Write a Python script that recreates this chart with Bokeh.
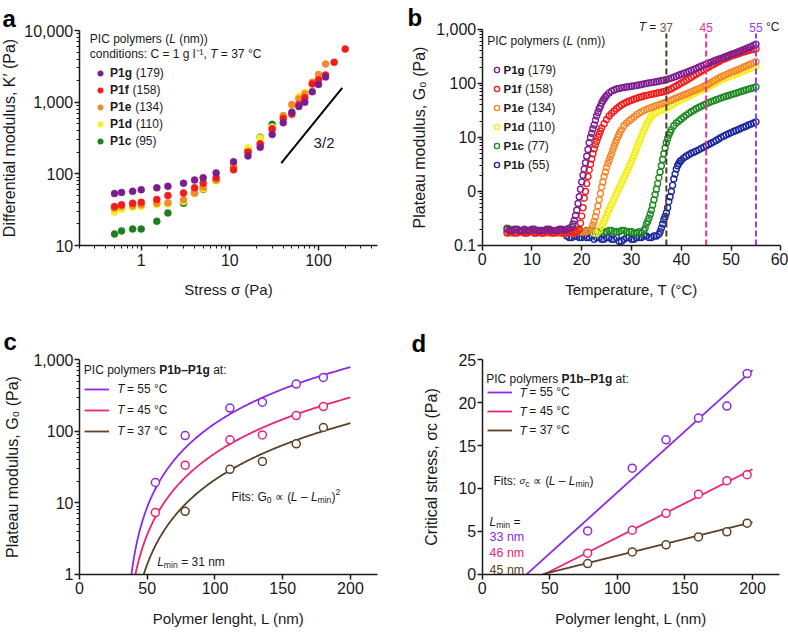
import numpy as np
from bokeh.plotting import figure
from bokeh.models import Range1d, FixedTicker, Label, Legend, LegendItem
from bokeh.layouts import row, column
from bokeh.embed import file_html
from bokeh.resources import INLINE

FONT = "Liberation Sans"
INK = "#1a1a1a"

# ---------------- Panel a data ----------------
STRESS = [0.5, 0.6, 0.8, 1, 1.5, 2, 3, 4, 5, 7, 11, 16, 22, 30, 40, 50, 60, 70, 85, 100, 120, 150, 200]
K_P1G = [53, 55, 57, 60, 64, 67, 74, 82, 88, 103, 147, 178, 235, 355, 515, 725, 870, 1000, 1400, 1770, 2250]
K_P1F = [35, 37, 39, 40, 44, 50, 54, 64, 74, 88, 114, 200, 260, 425, 590, 680, 930, 1150, 1800, 2050, 2400, 3600, 5500]
K_P1E = [33, 35, 36, 37, 39, 39.5, 43.5, 54, 65, 82, 128, 205, 265, 420, 650, 930, 1120, 1300, 1900, 2430, 3420]
K_P1D = [29, 32, 34, 35, 37, 38, 41, 53, 62, 80, 125, 230, 320, 450, 640, 900, 1200, 1380]
K_P1C = [14.5, 16, 17, 17, 21.8, 28.5, 39, 55, 61, 81, 125, 210, 325, 490]
A_NAMES = ["P1g", "P1f", "P1e", "P1d", "P1c"]
A_LENGTHS = ["(179)", "(158)", "(134)", "(110)", "(95)"]
A_COLORS = ["#7b1e8c", "#f21c1c", "#f48a2c", "#f6ef1e", "#1c7f1c"]
SLOPE_X = [38, 185]
SLOPE_Y = [141, 1585]

# ---------------- Panel b data (T in degC, G0 in Pa) ----------------
P1G_B = [(5,.20),(6,.19),(7,.20),(8,.19),(9,.19),(10,.20),(11,.19),(12,.19),(13,.20),(14,.19),(15,.19),(16,.20),(17,.20),
         (17.5,.21),(18,.22),(18.25,.25),(18.5,.29),(18.75,.36),(19,.45),(19.25,.6),(19.5,.8),(19.75,1.1),(20,1.5),
         (20.25,2.0),(20.5,2.6),(20.75,3.4),(21,4.5),(21.25,6.0),(21.5,8.0),(21.75,10),(22,12),(22.25,14.5),(22.5,17),
         (22.75,21),(23,25),(23.25,29),(23.5,34),(23.75,38),(24,43),(24.25,48),(24.5,52),(24.75,56),(25,60),(25.5,67),
         (26,72),(26.5,76),(27,79),(27.5,81),(28,83),(29,86),(30,89),(31,92),(32,96),(33,100),(34,104),(35,108),(36,113),
         (37,118),(38,126),(39,136),(40,148),(41,160),(42,175),(43,190),(44,210),(45,228),(46,248),(47,270),(48,292),
         (49,316),(50,345),(51,372),(52,405),(53,440),(54,480),(55,535)]
P1G_B_MORE = [(5.5,.19),(6.5,.20),(7.5,.19),(8.5,.20),(9.5,.19),(10.5,.20),(11.5,.19),(12.5,.19),(13.5,.20),(14.5,.19),
              (15.5,.20),(16.5,.19),(28.5,84.5),(29.5,87.5),(30.5,90.5),(31.5,94),(32.5,98),(33.5,102),(34.5,106),
              (35.5,110),(36.5,115),(37.5,122),(38.5,131),(39.5,142),(40.5,154),(41.5,167),(42.5,182),(43.5,200),
              (44.5,219),(45.5,238),(46.5,259),(47.5,281),(48.5,304),(49.5,330),(50.5,358),(51.5,388),(52.5,422),
              (53.5,460),(54.5,507)]
P1F_B = [(5,.17),(6,.18),(7,.17),(8,.18),(9,.17),(10,.18),(11,.17),(12,.17),(13,.18),(14,.17),(15,.18),(16,.17),(17,.17),
         (18,.18),(19,.18),(19.5,.2),(19.75,.26),(20,.35),(20.25,.5),(20.5,.75),(20.75,1.0),(21,1.4),(21.25,1.9),(21.5,2.5),
         (21.75,3.2),(22,4.0),(22.25,5.0),(22.5,6.2),(22.75,7.3),(23,8.5),(23.25,10),(23.5,11.5),(23.75,13.2),(24,15),
         (24.5,18),(25,21.5),(25.5,25),(26,28),(26.5,31),(27,34),(28,40),(29,45),(30,49),(31,53),(32,57),(33,60),(34,63),
         (35,66),(36,69),(37,73),(38,80),(39,90),(40,102),(41,115),(42,130),(43,148),(44,168),(45,190),(46,215),(47,240),
         (48,268),(49,295),(50,320),(51,345),(52,370),(53,395),(54,420),(55,440)]
P1F_B_MORE = [(5.5,.18),(6.5,.17),(7.5,.18),(8.5,.17),(9.5,.18),(10.5,.17),(11.5,.18),(12.5,.17),(13.5,.18),(14.5,.17),
              (15.5,.18),(16.5,.17),(17.5,.18),(18.5,.17),(27.5,37),(28.5,42.5),(29.5,47),(30.5,51),(31.5,55),(32.5,58.5),
              (33.5,61.5),(34.5,64.5),(35.5,67.5),(36.5,71),(37.5,76),(38.5,85),(39.5,96),(40.5,108),(41.5,122),
              (42.5,139),(43.5,158),(44.5,179),(45.5,202),(46.5,227),(47.5,254),(48.5,281),(49.5,307),(50.5,332),
              (51.5,357),(52.5,382),(53.5,407),(54.5,430)]
P1E_B = [(5,.18),(6,.17),(7,.18),(8,.18),(9,.17),(10,.18),(11,.18),(12,.17),(13,.18),(14,.18),(15,.17),(16,.18),(17,.18),
         (18,.17),(19,.18),(20,.18),(21,.18),(21.5,.19),(22,.21),(22.25,.24),(22.5,.28),(22.75,.34),(23,.42),(23.25,.54),
         (23.5,.7),(23.75,.92),(24,1.2),(24.25,1.5),(24.5,1.9),(24.75,2.3),(25,2.8),(25.25,3.3),(25.5,3.8),(25.75,4.4),
         (26,5.0),(26.25,5.9),(26.5,6.8),(26.75,7.9),(27,9.0),(27.25,10.2),(27.5,11.5),(27.75,12.8),(28,14),(28.5,16.5),
         (29,18.5),(29.5,20.5),(30,22),(31,26.5),(32,30),(33,33),(34,36),(35,39),(36,42),(37,45),(38,49),(39,54),(40,59),
         (41,64),(42,70),(43,77),(44,84),(45,93),(46,104),(47,118),(48,132),(49,146),(50,160),(51,174),(52,190),(53,210),
         (54,230),(55,252)]
P1E_B_MORE = [(5.5,.17),(6.5,.18),(7.5,.18),(8.5,.17),(9.5,.18),(10.5,.17),(11.5,.18),(12.5,.18),(13.5,.17),(14.5,.18),
              (15.5,.17),(16.5,.18),(17.5,.18),(18.5,.17),(19.5,.18),(20.5,.18),(30.5,24),(31.5,28),(32.5,31.5),
              (33.5,34.5),(34.5,37.5),(35.5,40.5),(36.5,43.5),(37.5,47),(38.5,51.5),(39.5,56.5),(40.5,61.5),(41.5,67),
              (42.5,73.5),(43.5,80.5),(44.5,88.5),(45.5,98),(46.5,111),(47.5,125),(48.5,139),(49.5,153),(50.5,167),
              (51.5,182),(52.5,200),(53.5,220),(54.5,241)]
P1D_B = [(22.5,.17),(23,.17),(23.5,.19),(24,.23),(24.25,.25),(24.5,.28),(24.75,.32),(25,.36),(25.25,.41),(25.5,.46),
         (25.75,.52),(26,.58),(26.25,.65),(26.5,.73),(26.75,.82),(27,.92),(27.25,1.03),(27.5,1.15),(27.75,1.28),(28,1.42),
         (28.25,1.6),(28.5,1.8),(28.75,2.0),(29,2.25),(29.25,2.5),(29.5,2.85),(29.75,3.2),(30,3.6),(30.25,4.1),(30.5,4.7),
         (30.75,5.4),(31,6.2),(31.25,7.1),(31.5,8.2),(31.75,9.3),(32,10.5),(32.25,12),(32.5,13.5),(32.75,15.2),(33,17),
         (33.25,19),(33.5,21),(33.75,23),(34,24.5),(34.5,27),(35,29),(35.5,30.5),(36,32),(37,35),(38,39),(39,45),(40,50),
         (41,55),(42,61),(43,68),(44,75),(45,83),(46,93),(47,104),(48,115),(49,127),(50,138),(51,150),(52,162),(53,178),
         (54,193),(55,208)]
P1D_B_MORE = [(36.5,33.5),(37.5,37),(38.5,42),(39.5,47.5),(40.5,52.5),(41.5,58),(42.5,64.5),(43.5,71.5),(44.5,79),
              (45.5,88),(46.5,98),(47.5,109),(48.5,121),(49.5,132),(50.5,144),(51.5,156),(52.5,170),(53.5,185),(54.5,200)]
P1C_B = [(5,.21),(6,.19),(7,.19),(8,.18),(9,.19),(10,.19),(11,.18),(12,.19),(13,.19),(14,.18),(15,.19),(16,.19),(17,.18),
         (18,.19),(19,.19),(20,.18),(21,.19),(22,.19),(23,.18),(24,.19),(25,.18),(26,.19),(27,.18),(28,.19),(29,.18),(30,.18),
         (31,.17),(32,.17),(32.5,.19),(32.75,.21),(33,.25),(33.25,.28),(33.5,.32),(33.75,.38),(34,.45),(34.25,.56),(34.5,.7),
         (34.75,.88),(35,1.1),(35.25,1.4),(35.5,1.8),(35.75,2.3),(36,3.0),(36.25,3.9),(36.5,5.0),(36.75,6.4),(37,8.0),
         (37.25,9.5),(37.5,11),(37.75,12.5),(38,14),(38.5,16.5),(39,18.5),(39.5,20.3),(40,22),(41,26),(42,30),(43,34),
         (44,38),(45,42),(46,46),(47,50),(48,54),(49,58),(50,62),(51,66),(52,71),(53,76),(54,81),(55,86)]
P1C_B_MORE = [(5.5,.20),(6.5,.18),(7.5,.19),(8.5,.18),(9.5,.19),(10.5,.18),(11.5,.19),(12.5,.18),(13.5,.19),(14.5,.18),
              (15.5,.19),(16.5,.18),(17.5,.19),(18.5,.18),(19.5,.19),(20.5,.18),(21.5,.19),(22.5,.18),(23.5,.19),
              (24.5,.18),(25.5,.19),(26.5,.18),(27.5,.18),(28.5,.19),(29.5,.18),(30.5,.17),(31.5,.18),(40.5,24),
              (41.5,28),(42.5,32),(43.5,36),(44.5,40),(45.5,44),(46.5,48),(47.5,52),(48.5,56),(49.5,60),(50.5,64),
              (51.5,68.5),(52.5,73.5),(53.5,78.5),(54.5,83.5)]
P1B_B = [(17,.15),(18,.14),(19,.15),(20,.14),(21,.14),(22,.15),(23,.14),(24,.13),(25,.14),(26,.13),(27,.14),(28,.12),(29,.14),
         (30,.13),(31,.14),(32,.14),(33,.15),(34,.14),(35,.15),(35.5,.16),(35.75,.18),(36,.21),(36.25,.25),(36.5,.3),
         (36.75,.34),(37,.4),(37.25,.5),(37.5,.65),(37.75,.8),(38,1.0),(38.25,1.3),(38.5,1.7),(38.75,2.1),(39,2.6),(39.25,3.0),
         (39.5,3.3),(39.75,3.6),(40,3.8),(40.5,4.2),(41,4.5),(42,5.1),(43,5.6),(44,6.3),(45,7.0),(46,7.8),(47,8.8),(48,10),
         (49,11.2),(50,12.3),(51,13.5),(52,14.8),(53,16.2),(54,17.7),(55,19.5)]
P1B_B_MORE = [(17.5,.14),(18.5,.15),(19.5,.14),(20.5,.15),(21.5,.14),(22.5,.13),(23.5,.14),(24.5,.13),(25.5,.14),
              (26.5,.13),(27.5,.12),(28.5,.13),(29.5,.14),(30.5,.13),(31.5,.14),(32.5,.15),(33.5,.14),(34.5,.15),
              (41.5,4.8),(42.5,5.35),(43.5,5.9),(44.5,6.6),(45.5,7.4),(46.5,8.3),(47.5,9.4),(48.5,10.6),(49.5,11.7),
              (50.5,12.9),(51.5,14.1),(52.5,15.5),(53.5,17),(54.5,18.6)]
B_NAMES = ["P1g", "P1f", "P1e", "P1d", "P1c", "P1b"]
B_LENGTHS = ["(179)", "(158)", "(134)", "(110)", "(77)", "(55)"]
B_COLORS = ["#7e1f8f", "#f21d1d", "#f7862a", "#f4ee1e", "#1f8a22", "#1b2a9c"]
VLINE_T = [37, 45, 55]
VLINE_TXT = ["37", "45", "55"]
VLINE_BOTTOM = [0.1, 0.1, 0.1]
VLINE_TOP = [840, 840, 840]
VLINE_COLORS = ["#4d3a28", "#f02f8c", "#9040f0"]
VTEXT_COLORS = ["#6b5a44", "#f02f8c", "#9040f0"]

# ---------------- Panel c data ----------------
C_L = [56, 78, 111, 135, 160, 180]
C_G55 = [19.2, 87, 211, 255, 457, 566]
C_G45 = [7.3, 33.5, 76, 89, 166, 222]
C_L37 = [78, 111, 135, 160, 180]
C_G37 = [7.6, 29.4, 37.8, 66.7, 113]
FIT_C_LMIN = [32.4, 31.5, 32.8]
FIT_C_COEF = [0.0281, 0.01046, 0.00465]

# ---------------- Panel d data ----------------
D_L = [78, 111, 136, 160, 181, 196]
D_S55 = [5.05, 12.36, 15.67, 18.2, 19.6, 23.4]
D_S45 = [2.45, 5.13, 7.1, 9.33, 10.9, 11.6]
D_S37 = [1.24, 2.6, 3.42, 4.35, 4.94, 5.95]
FIT_D_LMIN = [33, 46, 45]
FIT_D_SLOPE = [0.1425, 0.0795, 0.0392]

T_LABELS = ["55 °C", "45 °C", "37 °C"]
T_COLORS = ["#8a2be2", "#e8247a", "#5a4128"]

# ---------------- helpers ----------------
W_REG = {' ': 278, '(': 333, ')': 333, ',': 278, '-': 333, '.': 278, '/': 278, ':': 278, '=': 584, '°': 400,
         'A': 667, 'C': 722, 'D': 722, 'F': 611, 'G': 778, 'I': 278, 'K': 667, 'L': 556, 'P': 667, 'T': 611,
         'a': 556, 'b': 556, 'c': 500, 'd': 556, 'e': 556, 'f': 278, 'g': 556, 'h': 556, 'i': 222, 'k': 500,
         'l': 222, 'm': 833, 'n': 556, 'o': 556, 'p': 556, 'r': 333, 's': 500, 't': 278, 'u': 556, 'y': 500,
         '–': 556, '∝': 713, 'σ': 600, '²': 333, '¹': 333, '⁻': 333}
W_BOLD = {'b': 611, 'c': 556, 'd': 611, 'f': 333, 'g': 611, 'P': 667}


def text_width(s, size, bold=False):
    tot = 0
    for ch in s:
        if bold and ch in W_BOLD:
            tot += W_BOLD[ch]
        else:
            tot += W_REG.get(ch, 556)
    return tot * size / 1000.0


def label(p, x, y, text, size=12, style="normal", color=INK, align="left", baseline="alphabetic"):
    p.add_layout(Label(x=x, y=y, x_units="screen", y_units="screen", text=text, text_font=FONT,
                       text_font_size=f"{size}px", text_font_style=style, text_color=color,
                       text_align=align, text_baseline=baseline))


def rich(p, x, y, segs, size=12):
    cx = x
    for seg in segs:
        txt, kind = seg[0], seg[1]
        color = seg[2] if len(seg) > 2 else INK
        fs, dy, style = size, 0, "normal"
        if kind == "b":
            style = "bold"
        elif kind == "i":
            style = "italic"
        elif kind == "sub":
            fs, dy = size * 0.72, -3
        elif kind == "sup":
            fs, dy = size * 0.72, 5
        elif kind == "ismall":
            fs, style = size * 0.8, "italic"
        lead = len(txt) - len(txt.lstrip(" "))
        stripped = txt.strip(" ")
        if stripped:
            label(p, cx + text_width(" " * lead, fs), y + dy, stripped, size=round(fs, 1), style=style, color=color)
        cx += text_width(txt, fs, bold=(kind == "b"))
    return cx


def make_fig(w, h, xr, yr, xt="linear", yt="linear"):
    # the frame fills the whole canvas; axes are pinned with fixed_location
    p = figure(width=w, height=h, x_range=xr, y_range=yr, x_axis_type=xt, y_axis_type=yt,
               output_backend="svg", toolbar_location=None,
               min_border_left=0, min_border_right=0, min_border_top=0, min_border_bottom=0)
    p.grid.visible = False
    p.outline_line_color = None
    p.background_fill_color = "white"
    p.border_fill_color = "white"
    return p


def style_axis(ax, title, tsize, lstand, tstand, loc, bounds):
    ax.fixed_location = loc
    ax.bounds = bounds
    ax.axis_label = title
    ax.axis_label_text_font = FONT
    ax.axis_label_text_font_size = tsize
    ax.axis_label_text_font_style = "normal"
    ax.axis_label_text_color = INK
    ax.axis_label_standoff = tstand
    ax.major_label_text_font = FONT
    ax.major_label_text_font_size = "16px"
    ax.major_label_text_color = INK
    ax.major_label_standoff = lstand
    ax.axis_line_color = INK
    ax.axis_line_width = 1.5
    ax.major_tick_line_color = INK
    ax.major_tick_line_width = 1.5
    ax.major_tick_in = 0
    ax.major_tick_out = 5
    ax.minor_tick_line_color = INK
    ax.minor_tick_line_width = 1
    ax.minor_tick_in = 0
    ax.minor_tick_out = 3


def log_minor(lo, hi):
    out = []
    d = 10.0 ** np.floor(np.log10(lo))
    while d < hi:
        for m in range(2, 10):
            v = m * d
            if lo <= v <= hi:
                out.append(float(v))
        d *= 10
    return out


def letter(p, txt, x, y):
    label(p, x, y, txt, size=24, style="bold", color="black")


# ================= Panel a (canvas 394 x 316) =================
pa = make_fig(394, 316, Range1d(0.02588, 719), Range1d(1.022, 26220), "log", "log")
style_axis(pa.xaxis[0], "Stress σ (Pa)", "15px", 3, 12, 10, (0.2, 462))
style_axis(pa.yaxis[0], "Differential modulus, K′ (Pa)", "16px", 1, 4, 0.2, (10, 10000))
pa.xaxis.ticker = FixedTicker(ticks=[1, 10, 100], minor_ticks=log_minor(0.2, 462))
pa.xaxis.major_label_overrides = {1: "1", 10: "10", 100: "100"}
pa.yaxis.ticker = FixedTicker(ticks=[10, 100, 1000, 10000], minor_ticks=log_minor(10, 10000))
pa.yaxis.major_label_overrides = {10: "10", 100: "100", 1000: "1,000", 10000: "10,000"}

a_series = [K_P1G, K_P1F, K_P1E, K_P1D, K_P1C]
a_rend = {}
for i in [4, 3, 2, 1, 0]:
    vals = a_series[i]
    a_rend[i] = pa.scatter(STRESS[:len(vals)], vals, marker="circle", size=7, fill_color=A_COLORS[i],
                           line_color=A_COLORS[i], line_width=0.5)
pa.line(SLOPE_X, SLOPE_Y, line_color="black", line_width=2)
pa.add_layout(Label(x=88, y=275, text="3/2", text_font=FONT, text_font_size="15px", text_color=INK,
                    text_baseline="alphabetic"))

leg_a = Legend(items=[LegendItem(label=A_NAMES[i], renderers=[a_rend[i]]) for i in range(5)],
               location=(93, 168), glyph_width=14, glyph_height=14, label_height=14, spacing=3,
               padding=0, margin=0, label_standoff=3, border_line_color=None, background_fill_alpha=0,
               label_text_font=FONT, label_text_font_size="12px", label_text_font_style="bold",
               label_text_color=INK)
pa.add_layout(leg_a)
for i in range(5):
    xs = 110 + text_width(A_NAMES[i], 12, bold=True) + 3.3
    label(pa, xs, 316 - (72.7 + 17 * i), A_LENGTHS[i], baseline="middle")
rich(pa, 89.3, 278, [("PIC polymers (", "n"), ("L", "i"), (" (nm))", "n")])
rich(pa, 89.3, 263, [("conditions: C = 1 g l⁻¹, ", "n"), ("T", "i"), (" = 37 °C", "n")])
letter(pa, "a", 2, 298)

# ================= Panel b (canvas 394 x 316, page x 394) =================
pb = make_fig(394, 316, Range1d(-17.62, 61.54), Range1d(0.00484, 3444), "linear", "log")
style_axis(pb.xaxis[0], "Temperature, T (°C)", "15px", 3, 12, 0.1, (0, 60))
style_axis(pb.yaxis[0], "Plateau modulus, G₀ (Pa)", "16px", 1, 5, 0, (0.1, 1000))
pb.xaxis.ticker = FixedTicker(ticks=[0, 10, 20, 30, 40, 50, 60])
pb.yaxis.ticker = FixedTicker(ticks=[0.1, 1, 10, 100, 1000], minor_ticks=log_minor(0.1, 1000))
pb.yaxis.major_label_overrides = {0.1: "0.1", 1: "0", 10: "10", 100: "100", 1000: "1,000"}

b_series = [P1G_B + P1G_B_MORE, P1F_B + P1F_B_MORE, P1E_B + P1E_B_MORE, P1D_B + P1D_B_MORE,
            P1C_B + P1C_B_MORE, P1B_B + P1B_B_MORE]
b_rend = {}
for i in [5, 4, 3, 2, 1, 0]:
    ts = [t for t, g in b_series[i]]
    gs = [g for t, g in b_series[i]]
    b_rend[i] = pb.scatter(ts, gs, marker="circle", size=6, fill_color=None, line_color=B_COLORS[i],
                           line_width=1.4)
pb.segment(x0=VLINE_T, y0=VLINE_BOTTOM, x1=VLINE_T, y1=VLINE_TOP, line_color=VLINE_COLORS,
           line_dash="6 3", line_width=2)

leg_b = Legend(items=[LegendItem(label=B_NAMES[i], renderers=[b_rend[i]]) for i in range(6)],
               location=(95.5, 145), glyph_width=13, glyph_height=13, label_height=13, spacing=6,
               padding=0, margin=0, label_standoff=1, border_line_color=None, background_fill_alpha=0,
               label_text_font=FONT, label_text_font_size="11.5px", label_text_font_style="bold",
               label_text_color=INK)
pb.add_layout(leg_b)
for i in range(6):
    xs = 109.5 + text_width(B_NAMES[i], 11.5, bold=True) + 3
    label(pb, xs, 316 - (69.3 + 19 * i), B_LENGTHS[i], baseline="middle")
rich(pb, 92.7, 276, [("PIC polymers (", "n"), ("L", "i"), (" (nm))", "n")])
for t, txt, c in zip(VLINE_T, VLINE_TXT, VTEXT_COLORS):
    pb.add_layout(Label(x=t, y=289.3, x_units="data", y_units="screen", text=txt, text_font=FONT,
                        text_font_size="12px", text_color=c, text_align="center", text_baseline="alphabetic"))
pb.add_layout(Label(x=VLINE_T[0], y=289.3, x_units="data", y_units="screen", x_offset=-10, text="=",
                    text_font=FONT, text_font_size="12px", text_color=INK, text_align="right",
                    text_baseline="alphabetic"))
pb.add_layout(Label(x=VLINE_T[0], y=289.3, x_units="data", y_units="screen", x_offset=-20.3, text="T",
                    text_font=FONT, text_font_size="12px", text_font_style="italic", text_color=INK,
                    text_align="right", text_baseline="alphabetic"))
pb.add_layout(Label(x=VLINE_T[2], y=289.3, x_units="data", y_units="screen", x_offset=10, text="°C",
                    text_font=FONT, text_font_size="12px", text_color=INK, text_align="left",
                    text_baseline="alphabetic"))
letter(pb, "b", 13, 299)

# ================= Panel c (canvas 394 x 314, page y 316) =================
pc = make_fig(394, 314, Range1d(-58.3, 232.5), Range1d(0.1631, 4037), "linear", "log")
style_axis(pc.xaxis[0], "Polymer lenght, L (nm)", "15px", 3, 12, 1, (0, 220))
style_axis(pc.yaxis[0], "Plateau modulus, G₀ (Pa)", "16px", 1, 9, 0, (1, 1000))
pc.xaxis.ticker = FixedTicker(ticks=[0, 50, 100, 150, 200])
pc.yaxis.ticker = FixedTicker(ticks=[1, 10, 100, 1000], minor_ticks=log_minor(1, 1000))
pc.yaxis.major_label_overrides = {1: "1", 10: "10", 100: "100", 1000: "1,000"}

c_fit_rend = []
for lmin, coef, col in zip(FIT_C_LMIN, FIT_C_COEF, T_COLORS):
    Ls = np.linspace(lmin + 1.0 / np.sqrt(coef), 200, 240)
    c_fit_rend.append(pc.line(Ls, coef * (Ls - lmin) ** 2, line_color=col, line_width=1.8))
for xs, ys, col in [(C_L, C_G55, T_COLORS[0]), (C_L, C_G45, T_COLORS[1]), (C_L37, C_G37, T_COLORS[2])]:
    pc.scatter(xs, ys, marker="circle", size=8, fill_color="white", line_color=col, line_width=1.5)

leg_c = Legend(items=[LegendItem(label="= " + T_LABELS[i], renderers=[c_fit_rend[i]]) for i in range(3)],
               location=(84, 192), glyph_width=25, glyph_height=14, label_height=14, spacing=7,
               padding=0, margin=0, label_standoff=18, border_line_color=None, background_fill_alpha=0,
               label_text_font=FONT, label_text_font_size="12px", label_text_color=INK)
pc.add_layout(leg_c)
for i in range(3):
    label(pc, 116.7, 630 - (388.7 + 21 * i), "T", style="italic", baseline="middle")
rich(pc, 83.3, 260.7, [("PIC polymers ", "n"), ("P1b–P1g", "b"), (" at:", "n")])
rich(pc, 231, 134, [("Fits: G", "n"), ("0", "sub"), (" ∝ (", "n"), ("L", "i"), (" – ", "n"), ("L", "i"),
                    ("min", "sub"), (")", "n"), ("2", "sup")])
rich(pc, 156.7, 68.3, [("L", "i"), ("min", "sub"), (" = 31 nm", "n")])
letter(pc, "c", 3, 289)

# ================= Panel d (canvas 394 x 314, page x 394, y 316) =================
pd_ = make_fig(394, 314, Range1d(-64.9, 226.6), Range1d(-6.565, 30.05), "linear", "linear")
style_axis(pd_.xaxis[0], "Polymer lenght, L (nm)", "15px", 3, 12, 0, (0, 220))
style_axis(pd_.yaxis[0], "Critical stress, σc (Pa)", "16px", 1, 16, 0, (0, 25))
pd_.xaxis.ticker = FixedTicker(ticks=[0, 50, 100, 150, 200])
pd_.yaxis.ticker = FixedTicker(ticks=[0, 5, 10, 15, 20, 25])

d_fit_rend = []
for lmin, k, col in zip(FIT_D_LMIN, FIT_D_SLOPE, T_COLORS):
    d_fit_rend.append(pd_.line([lmin, 200], [0, k * (200 - lmin)], line_color=col, line_width=1.8))
for ys, col in [(D_S55, T_COLORS[0]), (D_S45, T_COLORS[1]), (D_S37, T_COLORS[2])]:
    pd_.scatter(D_L, ys, marker="circle", size=8, fill_color="white", line_color=col, line_width=1.5)

leg_d = Legend(items=[LegendItem(label="= " + T_LABELS[i], renderers=[d_fit_rend[i]]) for i in range(3)],
               location=(93.3, 193), glyph_width=25, glyph_height=14, label_height=14, spacing=5,
               padding=0, margin=0, label_standoff=17, border_line_color=None, background_fill_alpha=0,
               label_text_font=FONT, label_text_font_size="12px", label_text_color=INK)
pd_.add_layout(leg_d)
for i in range(3):
    label(pd_, 125, 630 - (392 + 19 * i), "T", style="italic", baseline="middle")
rich(pd_, 91.7, 251.3, [("PIC polymers ", "n"), ("P1b–P1g", "b"), (" at:", "n")])
rich(pd_, 99, 150, [("Fits: ", "n"), ("σ", "ismall"), ("c", "sub"), (" ∝ (", "n"), ("L", "i"), (" – ", "n"),
                    ("L", "i"), ("min", "sub"), (")", "n")])
rich(pd_, 95, 109, [("L", "i"), ("min", "sub"), (" =", "n")])
for txt, col, yy in [("33 nm", T_COLORS[0], 93.3), ("46 nm", T_COLORS[1], 77.3), ("45 nm", T_COLORS[2], 60.7)]:
    label(pd_, 95, yy, txt, size=12.5, color=col)
letter(pd_, "d", 17, 287)

layout = column(row(pa, pb), row(pc, pd_))
open("out.html", "w").write(file_html(layout, INLINE))
